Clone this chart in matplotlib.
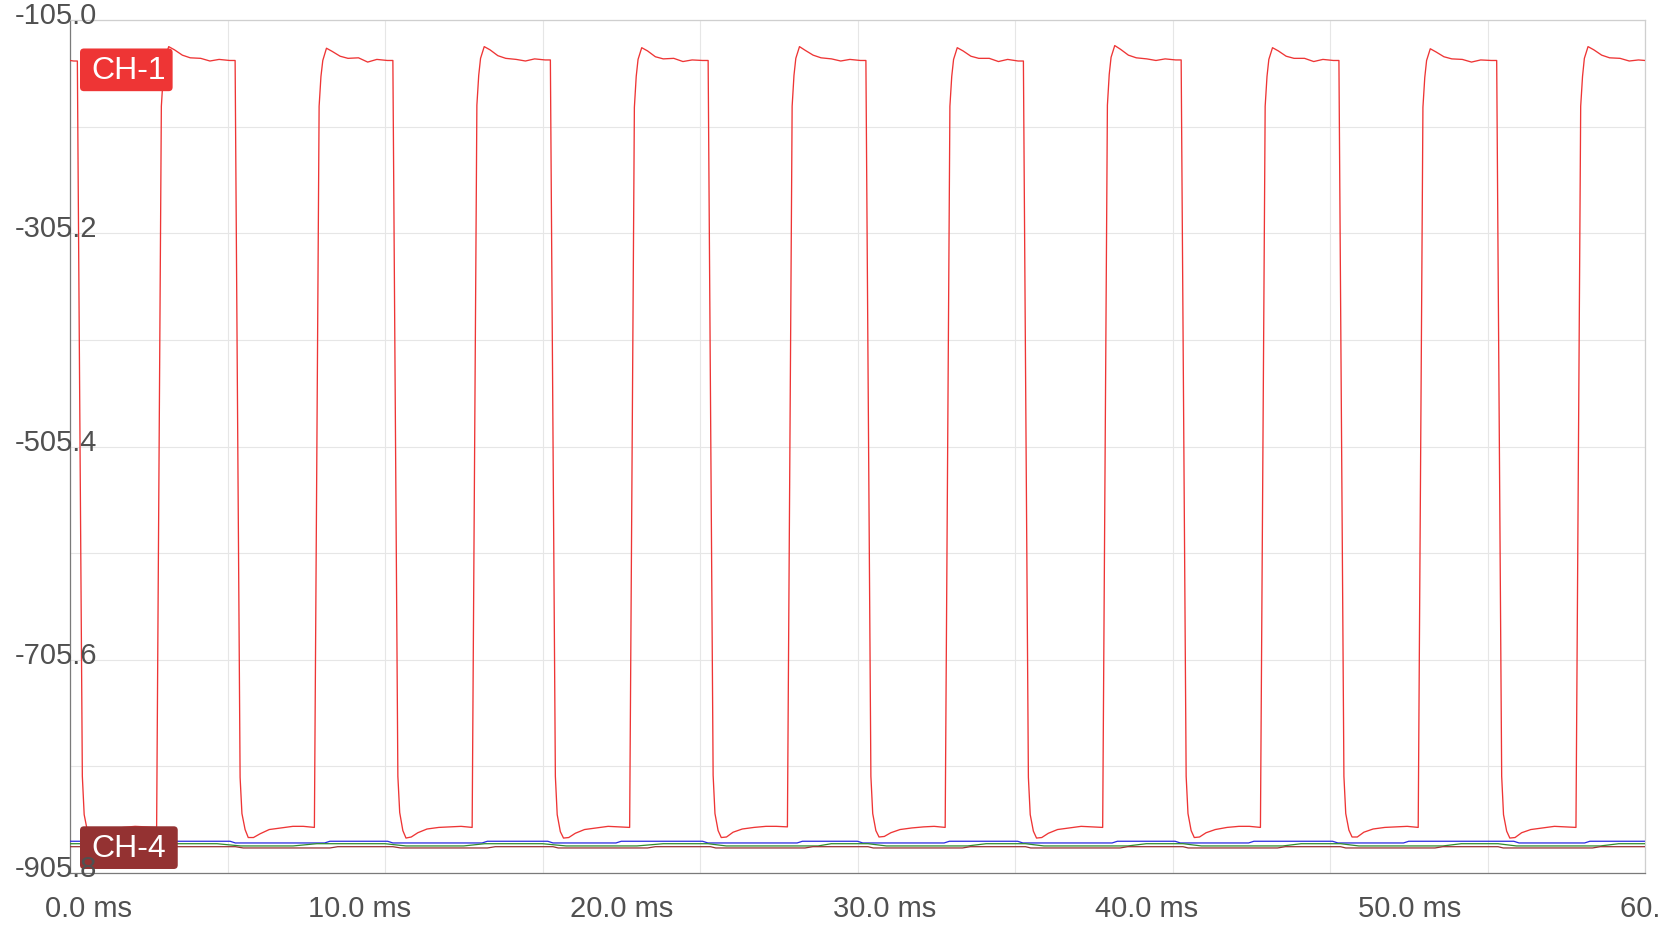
import matplotlib
matplotlib.use('Agg')
import matplotlib.pyplot as plt
from matplotlib.transforms import offset_copy, IdentityTransform
from matplotlib.patches import FancyBboxPatch

plt.rcParams['font.family'] = ['Liberation Sans', 'DejaVu Sans']

# axis range and labels
y_range = (-905.8, -105.0)
y_label_vals = [-105.0, -305.2, -505.4, -705.6, -905.8]
y_grid_vals = [-105.0, -205.1, -305.2, -405.3, -505.4, -605.5, -705.6, -805.7, -905.8]
x_range_ms = (0, 60)
x_label_ms = [0, 10, 20, 30, 40, 50, 60]
x_grid_ms = [0, 6, 12, 18, 24, 30, 36, 42, 48, 54, 60]

# CH-1 (red square wave)
ch1_ms = [
    0.00, 0.14,
    0.28, 0.47, 0.54, 0.66, 0.78, 0.98, 1.23, 1.58, 2.03, 2.48, 2.88, 3.30,
    3.48, 3.55, 3.62, 3.76, 3.98, 4.28, 4.58, 4.98, 5.33, 5.68, 6.08,
    6.29, 6.48, 6.55, 6.67, 6.79, 6.99, 7.24, 7.59, 8.04, 8.49, 8.89, 9.31,
    9.49, 9.56, 9.63, 9.77, 9.99, 10.29, 10.59, 10.99, 11.34, 11.69, 12.09,
    12.30, 12.49, 12.56, 12.68, 12.80, 13.00, 13.25, 13.60, 14.05, 14.50, 14.90, 15.32,
    15.50, 15.57, 15.64, 15.78, 16.00, 16.30, 16.60, 17.00, 17.35, 17.70, 18.10,
    18.30, 18.49, 18.56, 18.68, 18.80, 19.00, 19.25, 19.60, 20.05, 20.50, 20.90, 21.32,
    21.50, 21.57, 21.64, 21.78, 22.00, 22.30, 22.60, 23.00, 23.35, 23.70, 24.10,
    24.31, 24.50, 24.57, 24.69, 24.81, 25.01, 25.26, 25.61, 26.06, 26.51, 26.91, 27.33,
    27.51, 27.58, 27.65, 27.79, 28.01, 28.31, 28.61, 29.01, 29.36, 29.71, 30.11,
    30.32, 30.51, 30.58, 30.70, 30.82, 31.02, 31.27, 31.62, 32.07, 32.52, 32.92, 33.34,
    33.52, 33.59, 33.66, 33.80, 34.02, 34.32, 34.62, 35.02, 35.37, 35.72, 36.12,
    36.32, 36.51, 36.58, 36.70, 36.82, 37.02, 37.27, 37.62, 38.07, 38.52, 38.92, 39.34,
    39.52, 39.59, 39.66, 39.80, 40.02, 40.32, 40.62, 41.02, 41.37, 41.72, 42.12,
    42.33, 42.52, 42.59, 42.71, 42.83, 43.03, 43.28, 43.63, 44.08, 44.53, 44.93, 45.35,
    45.53, 45.60, 45.67, 45.81, 46.03, 46.33, 46.63, 47.03, 47.38, 47.73, 48.13,
    48.34, 48.53, 48.60, 48.72, 48.84, 49.04, 49.29, 49.64, 50.09, 50.54, 50.94, 51.36,
    51.54, 51.61, 51.68, 51.82, 52.04, 52.34, 52.64, 53.04, 53.39, 53.74, 54.14,
    54.35, 54.54, 54.61, 54.73, 54.85, 55.05, 55.30, 55.65, 56.10, 56.55, 56.95, 57.37,
    57.55, 57.62, 57.69, 57.83, 58.05, 58.35, 58.65, 59.05, 59.40, 59.75, 60.00,
]
ch1_val = [
    -143.0, -143.5,
    -143.5, -815, -851, -866, -872, -872, -868, -865, -863, -862, -862.5, -863,
    -186, -158, -141, -130, -133, -138, -140.5, -141, -143.5, -142, -143,
    -143, -816, -850, -865, -872.5, -872.5, -869, -865, -863.5, -862, -862, -863,
    -186, -158, -143, -131.5, -134.5, -139, -141, -140.5, -144.5, -142, -143,
    -143, -815, -849, -866, -873, -872, -868, -864.5, -863, -862.5, -862, -863,
    -185, -157, -141, -130, -133, -138.5, -141, -142, -143.5, -141.5, -142.5,
    -142.5, -815, -851, -867, -873, -872.5, -868.5, -865, -863.5, -862, -862.5, -863,
    -187, -158, -142, -131, -134, -139.5, -141.5, -141, -144, -142.5, -143,
    -143, -814, -850, -866, -872.5, -872, -867.5, -864.5, -863, -862, -862, -862.5,
    -186, -157, -141, -130, -133.5, -138, -140.5, -141.5, -143.5, -142, -143,
    -143, -815, -850, -866, -872, -871.5, -868, -865, -863.5, -862.5, -862, -863,
    -186, -158, -142, -131, -134, -139, -141, -141, -144, -142, -143.5,
    -143.5, -816, -851, -866.5, -873, -872.5, -868.5, -865, -863.5, -862, -862.5, -863,
    -185, -156, -140, -129, -132.5, -138, -140.5, -141.5, -143, -141.5, -142.5,
    -142.5, -815, -850, -866, -872.5, -872, -868, -865, -863, -862, -862, -863,
    -186, -158, -142, -131, -134, -139, -141, -141, -144, -142, -143,
    -143, -815, -850, -865.5, -872, -872, -867.5, -864.5, -863, -862.5, -862, -863,
    -187, -159, -143, -132, -135, -139.5, -141.5, -142, -144.5, -142.5, -143,
    -143, -815, -851, -866.5, -873, -872.5, -868, -865, -863.5, -862, -862.5, -863,
    -186, -158, -141, -130, -133, -138, -140.5, -141, -143.5, -142.5, -143,
]

# flat channels near the bottom
blue_ms = [0, 6.1, 6.3, 9.7, 9.9, 12.1, 12.3, 15.7, 15.9, 18.2, 18.4, 20.8, 21.0,
           24.1, 24.3, 27.7, 27.9, 30.0, 30.2, 33.3, 33.5, 36.1, 36.3, 39.7, 39.9,
           42.1, 42.3, 44.9, 45.1, 48.1, 48.3, 50.8, 51.0, 55.0, 55.2, 57.7, 57.9, 60]
blue_val = [-876.0, -876.0, -877.6, -877.6, -876.0, -876.0, -877.6, -877.6, -876.0,
            -876.0, -877.6, -877.6, -876.0, -876.0, -877.6, -877.6, -876.0, -876.0,
            -877.6, -877.6, -876.0, -876.0, -877.6, -877.6, -876.0, -876.0, -877.6,
            -877.6, -876.0, -876.0, -877.6, -877.6, -876.0, -876.0, -877.6, -877.6,
            -876.0, -876.0]

green_ms = [0, 5.6, 6.5, 8.5, 9.4, 12.0, 12.8, 15.0, 15.8, 18.0, 18.9, 21.6, 22.6,
            24.3, 25.0, 28.5, 29.0, 30.4, 31.1, 34.2, 34.9, 36.4, 37.1, 40.3, 41.0,
            42.4, 43.1, 46.2, 46.9, 48.4, 49.1, 52.3, 53.0, 54.4, 55.1, 58.3, 59.0, 60]
green_val = [-878.3, -878.3, -880.4, -880.4, -878.3, -878.3, -880.4, -880.4, -878.3,
             -878.3, -880.4, -880.4, -878.3, -878.3, -880.4, -880.4, -878.3, -878.3,
             -880.4, -880.4, -878.3, -878.3, -880.4, -880.4, -878.3, -878.3, -880.4,
             -880.4, -878.3, -878.3, -880.4, -880.4, -878.3, -878.3, -880.4, -880.4,
             -878.3, -878.3]

ch4_ms = [0, 6.3, 6.6, 9.9, 10.2, 12.3, 12.6, 15.9, 16.2, 18.4, 18.6, 22.0, 22.3,
          24.4, 24.6, 28.0, 28.3, 30.4, 30.6, 34.0, 34.3, 36.4, 36.6, 40.0, 40.3,
          42.4, 42.6, 46.0, 46.3, 48.4, 48.6, 52.0, 52.3, 54.4, 54.6, 58.0, 58.3, 60]
ch4_val = [-881.1, -881.1, -882.3, -882.3, -881.1, -881.1, -882.3, -882.3, -881.1,
           -881.1, -882.3, -882.3, -881.1, -881.1, -882.3, -882.3, -881.1, -881.1,
           -882.3, -882.3, -881.1, -881.1, -882.3, -882.3, -881.1, -881.1, -882.3,
           -882.3, -881.1, -881.1, -882.3, -882.3, -881.1, -881.1, -882.3, -882.3,
           -881.1, -881.1]

RED = '#ee3535'
DARK_RED = '#943232'
TXT = '#505050'

fig = plt.figure(figsize=(16.6, 9.33), dpi=100)
ax = fig.add_axes([70 / 1660, 60 / 933, 1575 / 1660, 853 / 933])

ax.plot(blue_ms, blue_val, color='#2a2ae0', lw=0.9, zorder=3)
ax.plot(green_ms, green_val, color='#2e8b2e', lw=0.9, zorder=3)
ax.plot(ch4_ms, ch4_val, color='#993333', lw=0.9, zorder=3)
ax.plot(ch1_ms, ch1_val, color=RED, lw=0.95, zorder=4)

ax.set_xlim(*x_range_ms)
ax.set_ylim(*y_range)
ax.set_xticks(x_grid_ms)
ax.set_yticks(y_grid_vals)
ax.tick_params(length=0, labelbottom=False, labelleft=False)
ax.grid(True, color='#e6e6e6', lw=0.8)
ax.set_axisbelow(True)
for side in ['left', 'bottom']:
    ax.spines[side].set_color('#7a7a7a')
    ax.spines[side].set_linewidth(0.9)
for side in ['top', 'right']:
    ax.spines[side].set_color('#cfcfcf')
    ax.spines[side].set_linewidth(0.9)

# tick labels, offset like the reference
for v in y_label_vals:
    tr = offset_copy(ax.get_yaxis_transform(), fig=fig, x=-55, y=-4, units='dots')
    ax.text(0, v, f'{v:.1f}', transform=tr, ha='left', va='baseline',
            fontsize=21, color=TXT, zorder=8, clip_on=False)
for ms in x_label_ms:
    tr = offset_copy(ax.get_xaxis_transform(), fig=fig, x=-25, y=-44, units='dots')
    ax.text(ms, 0, f'{ms:.1f} ms', transform=tr, ha='left', va='baseline',
            fontsize=21, color=TXT, zorder=8, clip_on=False)

# channel tags
tags = [('CH-1', ch1_val[0], 19, RED, 7), ('CH-4', ch4_val[0], 10.6, DARK_RED, 12)]
tag_texts = []
for name, yv, dy, face, rpad in tags:
    tr = offset_copy(ax.get_yaxis_transform(), fig=fig, x=21, y=-dy, units='dots')
    t = ax.text(0, yv, name, transform=tr, ha='left', va='baseline',
                fontsize=23, color='white', zorder=7, clip_on=False)
    tag_texts.append((t, tr, yv, face, rpad))

fig.canvas.draw()
renderer = fig.canvas.get_renderer()
for t, tr, yv, face, rpad in tag_texts:
    bb = t.get_window_extent(renderer)
    base = tr.transform((0, yv))[1]
    box = FancyBboxPatch((bb.x0 - 11, base - 11.7), bb.x1 - bb.x0 + 11 + rpad, 42.7,
                         boxstyle='round,pad=0,rounding_size=4',
                         transform=IdentityTransform(), facecolor=face,
                         edgecolor='none', zorder=6, clip_on=False)
    ax.add_artist(box)

fig.savefig('out.png', dpi=100)
